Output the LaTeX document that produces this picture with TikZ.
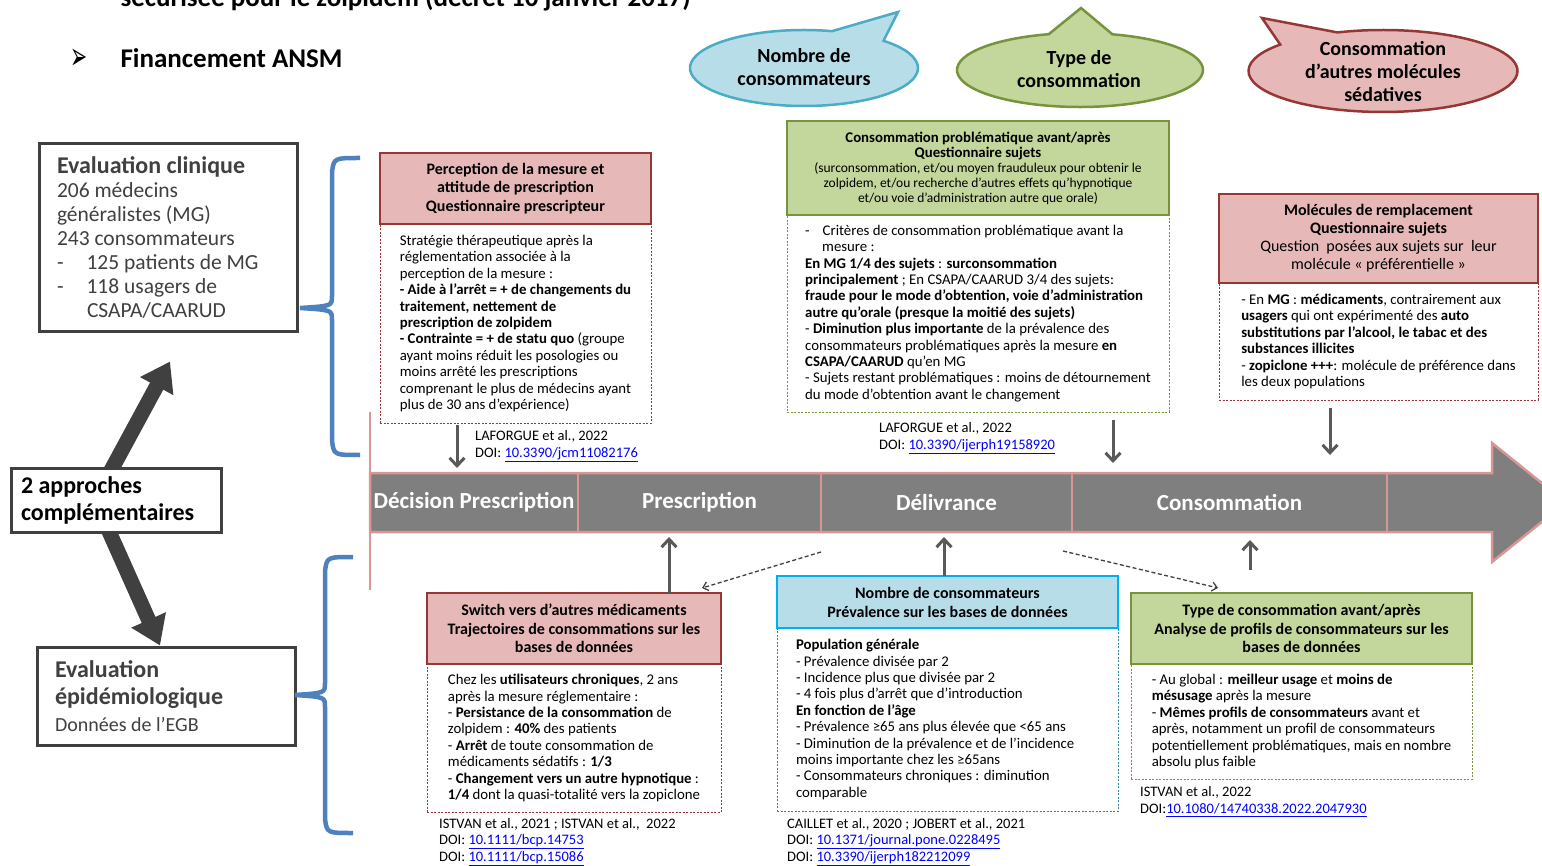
\documentclass[tikz,border=0pt]{standalone}
\usepackage{fontspec}
\setmainfont{Carlito}
\newfontfamily\symbfont{DejaVu Sans}
\usetikzlibrary{positioning,arrows.meta,shapes.callouts}

\definecolor{redfill}{HTML}{E6B9B8}
\definecolor{redline}{HTML}{953735}
\definecolor{greenfill}{HTML}{C3D69B}
\definecolor{greenline}{HTML}{77933C}
\definecolor{bluefill}{HTML}{B7DDE8}
\definecolor{blueline}{HTML}{00B0F0}
\definecolor{bluedash}{HTML}{31859C}
\definecolor{bubbleblue}{HTML}{4BACC6}
\definecolor{bandgray}{HTML}{7F7F7F}
\definecolor{bandpink}{HTML}{D99694}
\definecolor{arrowgray}{HTML}{595959}
\definecolor{darkgray}{HTML}{404040}
\definecolor{bracecol}{HTML}{4F81BD}
\definecolor{doiblue}{HTML}{0000FF}
\newcommand{\doiref}[1]{{\color{doiblue}\underline{#1}}}

\begin{document}
\begin{tikzpicture}[x=1pt, y=-1pt,
  hdr/.style={draw, line width=2.5pt, align=center, inner sep=0pt, outer sep=0pt,
    font=\bfseries\fontsize{16}{18.5}\selectfont},
  hdrred/.style={hdr, fill=redfill, draw=redline},
  hdrgreen/.style={hdr, fill=greenfill, draw=greenline},
  hdrblue/.style={hdr, fill=bluefill, draw=blueline},
  body/.style={draw, line width=0.9pt, dash pattern=on 2pt off 1.5pt, align=flush left,
    inner sep=0pt, outer sep=0pt, font=\fontsize{14.8}{16.4}\selectfont},
  bodyred/.style={body, draw=redline},
  bodygreen/.style={body, draw=greenline},
  bodyblue/.style={body, draw=bluedash},
  refnote/.style={anchor=west, align=left, inner sep=0pt, font=\fontsize{14.5}{17}\selectfont},
  leftbox/.style={draw=darkgray, line width=3pt, fill=white, inner sep=0pt, align=flush left, text=darkgray},
  bigarrow/.style={draw=darkgray, line width=15pt, -{Triangle[length=28pt,width=36pt]}},
  garrow/.style={draw=arrowgray, line width=3pt, -{Straight Barb[length=8pt,width=15pt]}},
  dasharrow/.style={draw=darkgray, line width=1.3pt, dash pattern=on 4pt off 2.5pt,
    -{Straight Barb[length=5pt,width=9pt]}},
  bluebrace/.style={draw=bracecol, line width=4.5pt},
  seg/.style={draw=bandpink, line width=2.5pt, minimum height=59pt, inner sep=0pt, outer sep=0pt,
    text=white, font=\bfseries\fontsize{23}{26}\selectfont},
  bubble/.style={ellipse callout, line width=2.5pt, inner sep=0pt, callout pointer arc=30},
  bubtext/.style={align=center, font=\bfseries\fontsize{20}{23}\selectfont}]

\useasboundingbox (0,0) rectangle (1542,866);

% title lines
\node[anchor=base west, font=\bfseries\fontsize{27}{30}\selectfont] (title) at (117,7) {sécurisée pour le zolpidem (décret 10 janvier 2017)};
\node[anchor=west, font=\symbfont\fontsize{24}{26}\selectfont] (bullet) at (67,59) {\scalebox{0.85}[1.6]{➢}};
\node[anchor=base west, font=\bfseries\fontsize{27}{30}\selectfont] (funding) at (117,68) {Financement ANSM};

% bubbles
\node[bubble, fill=bluefill, draw=bubbleblue, minimum width=228pt, minimum height=76pt,
  callout absolute pointer={(898,12)}] (bubA) at (804,68) {};
\node[bubtext] (bubAtext) at (804,67.5) {Nombre de\\consommateurs};
\node[bubble, fill=greenfill, draw=greenline, minimum width=246pt, minimum height=74pt,
  callout absolute pointer={(1081,8)}] (bubB) at (1080,70) {};
\node[bubtext] (bubBtext) at (1079,69) {Type de\\consommation};
\node[bubble, fill=redfill, draw=redline, minimum width=269pt, minimum height=82pt,
  callout absolute pointer={(1262,18)}] (bubC) at (1383,71) {};
\node[bubtext] (bubCtext) at (1383,71.5) {Consommation\\d’autres molécules\\sédatives};

% left side
\node[leftbox, minimum width=258pt, minimum height=188pt, text width=222pt,
  font=\fontsize{21.5}{24}\selectfont] (clin) at (168,238)
  {\textbf{\fontsize{24}{26}\selectfont Evaluation clinique}\\206 médecins\\généralistes (MG)\\243 consommateurs\\-\hspace{23pt}125 patients de MG\\-\hspace{23pt}118 usagers de\\\hspace*{30pt}CSAPA/CAARUD};
\node[leftbox, minimum width=258pt, minimum height=98pt, text width=222pt,
  font=\bfseries\fontsize{24}{27}\selectfont] (epid) at (166,696)
  {Evaluation\\épidémiologique\\{\mdseries\fontsize{20}{25}\selectfont Données de l’EGB}};
\coordinate (hub) at (95,500);
\draw[bigarrow] (hub) -- ([xshift=2pt,yshift=-28pt]clin.south);
\draw[bigarrow] (hub) -- ([xshift=-6pt]epid.north);
\node[leftbox, text=black, minimum width=210pt, minimum height=64pt, text width=190pt,
  font=\bfseries\fontsize{24}{27}\selectfont] (appr) at (116,500) {2 approches\\complémentaires};

% braces
\draw[bluebrace] (360,158) .. controls (334,158) .. (332,172) -- (332,296)
  .. controls (332,306) .. (300,308) .. controls (332,310) .. (332,320) -- (332,441)
  .. controls (334,455) .. (360,455);
\draw[bluebrace] (353,557) .. controls (327,557) .. (325,571) -- (325,683)
  .. controls (325,693) .. (295,695) .. controls (325,697) .. (325,707) -- (325,819)
  .. controls (327,833) .. (353,833);

% band
\filldraw[fill=bandgray, draw=bandpink, line width=2.5pt] (370,473) -- (1492,473) -- (1492,443)
  -- (1566,502.5) -- (1492,562) -- (1492,532) -- (370,532) -- cycle;
\node[seg, minimum width=208pt] (seg1) at (474,502.5) {Décision Prescription};
\node[seg, minimum width=243pt, right=0pt of seg1] (seg2) {Prescription};
\node[seg, minimum width=251pt, right=0pt of seg2] (seg3) {Délivrance};
\node[seg, minimum width=315pt, right=0pt of seg3] (seg4) {Consommation};
\draw[draw=bandpink, line width=2.5pt] ([yshift=61pt]seg1.north west) -- ([yshift=-58pt]seg1.south west);

% top boxes
\node[bodyred, minimum width=271pt, minimum height=199pt] (bA) at (515.5,323.5)
  {Stratégie thérapeutique après la\\réglementation associée à la\\perception de la mesure :\\
   \textbf{- Aide à l’arrêt = + de changements du}\\\textbf{traitement, nettement de}\\
   \textbf{prescription de zolpidem}\\\textbf{- Contrainte = + de statu quo} (groupe\\
   ayant moins réduit les posologies ou\\moins arrêté les prescriptions\\
   comprenant le plus de médecins ayant\\plus de 30 ans d’expérience)};
\node[hdrred, minimum width=271pt, minimum height=71pt, above=0pt of bA] (hA)
  {Perception de la mesure et\\attitude de prescription\\Questionnaire prescripteur};
\node[refnote] (refA) at (475,446) {LAFORGUE et al., 2022\\DOI: \doiref{10.3390/jcm11082176}};

\node[bodygreen, minimum width=382pt, minimum height=197pt] (bB) at (978,313.5)
  {-\hspace{13pt}Critères de consommation problématique avant la\\\hspace*{17pt}mesure :\\
   \textbf{En MG 1/4 des sujets} : \textbf{surconsommation}\\
   \textbf{principalement} ; En CSAPA/CAARUD 3/4 des sujets:\\
   \textbf{fraude pour le mode d’obtention, voie d’administration}\\
   \textbf{autre qu’orale (presque la moitié des sujets)}\\
   - \textbf{Diminution plus importante} de la prévalence des\\
   consommateurs problématiques après la mesure \textbf{en}\\
   \textbf{CSAPA/CAARUD} qu’en MG\\
   - Sujets restant problématiques : moins de détournement\\
   du mode d’obtention avant le changement};
\node[hdrgreen, minimum width=382pt, minimum height=94pt, above=0pt of bB,
  font=\fontsize{13.5}{15}\selectfont] (hB)
  {\textbf{\fontsize{14.8}{16}\selectfont Consommation problématique avant/après}\\
   \textbf{\fontsize{14.8}{16}\selectfont Questionnaire sujets}\\
   (surconsommation, et/ou moyen frauduleux pour obtenir le\\
   zolpidem, et/ou recherche d’autres effets qu’hypnotique\\
   et/ou voie d’administration autre que orale)};
\node[refnote] (refB) at (879,438) {LAFORGUE et al., 2022\\DOI: \doiref{10.3390/ijerph19158920}};

\node[bodyred, minimum width=319pt, minimum height=117pt] (bC) at (1378.5,341.5)
  {- En \textbf{MG} : \textbf{médicaments}, contrairement aux\\
   \textbf{usagers} qui ont expérimenté des \textbf{auto}\\
   \textbf{substitutions par l’alcool, le tabac et des}\\
   \textbf{substances illicites}\\
   - \textbf{zopiclone +++}: molécule de préférence dans\\
   les deux populations};
\node[hdrred, minimum width=319pt, minimum height=89pt, above=0pt of bC,
  font=\fontsize{16}{18}\selectfont] (hC)
  {\textbf{Molécules de remplacement}\\\textbf{Questionnaire sujets}\\
   Question~~posées aux sujets sur~~leur\\molécule « préférentielle »};

% bottom boxes
\node[bodyred, minimum width=294pt, minimum height=148pt] (bD) at (574,738)
  {Chez les \textbf{utilisateurs chroniques}, 2 ans\\après la mesure réglementaire :\\
   - \textbf{Persistance de la consommation} de\\zolpidem : \textbf{40\%} des patients\\
   - \textbf{Arrêt} de toute consommation de\\médicaments sédatifs : \textbf{1/3}\\
   - \textbf{Changement vers un autre hypnotique} :\\
   \textbf{1/4} dont la quasi-totalité vers la zopiclone};
\node[hdrred, minimum width=294pt, minimum height=71pt, above=0pt of bD] (hD)
  {Switch vers d’autres médicaments\\Trajectoires de consommations sur les\\bases de données};
\node[refnote, font=\fontsize{14.5}{16.5}\selectfont] (refD) at (439,842)
  {ISTVAN et al., 2021 ; ISTVAN et al.,~~2022\\DOI: \doiref{10.1111/bcp.14753}\\DOI: \doiref{10.1111/bcp.15086}};

\node[bodyblue, minimum width=341pt, minimum height=183pt, text width=303pt] (bE) at (947.5,719.5)
  {\textbf{Population générale}\\- Prévalence divisée par 2\\- Incidence plus que divisée par 2\\
   - 4 fois plus d’arrêt que d’introduction\\\textbf{En fonction de l’âge}\\
   - Prévalence ≥65 ans plus élevée que <65 ans\\
   - Diminution de la prévalence et de l’incidence\\moins importante chez les ≥65ans\\
   - Consommateurs chroniques : diminution\\comparable};
\node[hdrblue, minimum width=341pt, minimum height=52pt, above=0pt of bE,
  font=\bfseries\fontsize{16}{19}\selectfont] (hE)
  {Nombre de consommateurs\\Prévalence sur les bases de données};
\node[refnote, font=\fontsize{14.5}{16.5}\selectfont] (refE) at (787,842)
  {CAILLET et al., 2020 ; JOBERT et al., 2021\\DOI: \doiref{10.1371/journal.pone.0228495}\\DOI: \doiref{10.3390/ijerph182212099}};

\node[bodygreen, minimum width=341pt, minimum height=115pt] (bF) at (1301.5,721.5)
  {- Au global : \textbf{meilleur usage} et \textbf{moins de}\\\textbf{mésusage} après la mesure\\
   - \textbf{Mêmes profils de consommateurs} avant et\\
   après, notamment un profil de consommateurs\\
   potentiellement problématiques, mais en nombre\\absolu plus faible};
\node[hdrgreen, minimum width=341pt, minimum height=71pt, above=0pt of bF] (hF)
  {Type de consommation avant/après\\Analyse de profils de consommateurs sur les\\bases de données};
\node[refnote] (refF) at (1140,801.5) {ISTVAN et al., 2022\\DOI:\doiref{10.1080/14740338.2022.2047930}};

% arrows to the band
\draw[garrow, shorten <=2pt, shorten >=5pt] ([xshift=-58.5pt]bA.south) -- ([xshift=-17pt]seg1.north);
\draw[garrow, shorten <=8pt, shorten >=10pt] ([xshift=135pt]bB.south) -- ([xshift=-116.5pt]seg4.north);
\draw[garrow, shorten <=8pt, shorten >=18pt] ([xshift=-48.5pt]bC.south) -- ([xshift=100.5pt]seg4.north);
\draw[garrow, shorten >=5pt] ([xshift=95pt]hD.north) -- ([xshift=-30.5pt]seg2.south);
\draw[garrow, shorten >=5pt] ([xshift=-3.5pt]hE.north) -- ([xshift=-2.5pt]seg3.south);
\draw[garrow, shorten <=23pt, shorten >=8pt] ([xshift=-51.5pt]hF.north) -- ([xshift=20.5pt]seg4.south);
\draw[dasharrow] ([yshift=-20pt]seg3.south west) -- ([xshift=-19pt,yshift=5pt]hD.north east);
\draw[dasharrow] ([xshift=-9pt,yshift=-19pt]seg3.south east) -- ([xshift=87pt,yshift=5pt]hF.north west);
\end{tikzpicture}
\end{document}
